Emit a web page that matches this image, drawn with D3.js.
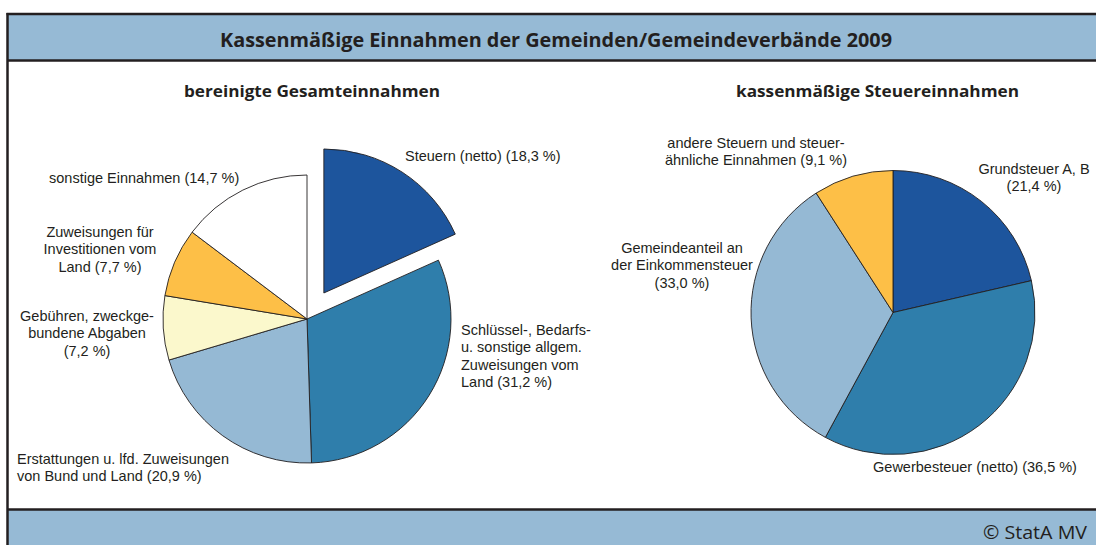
<!DOCTYPE html>
<html><head><meta charset="utf-8">
<script src="https://cdn.jsdelivr.net/npm/d3@7"></script>
<style>
html,body{margin:0;padding:0;background:#fff;}
svg{display:block;}
</style></head>
<body>
<svg id="c" width="1096" height="545"></svg>
<script>
// ---- data ----
const title = "Kassenmäßige Einnahmen der Gemeinden/Gemeindeverbände 2009";
const leftTitle = "bereinigte Gesamteinnahmen";
const rightTitle = "kassenmäßige Steuereinnahmen";
const source = "© StatA MV";

const leftCategories = [
  "Steuern (netto)",
  "Schlüssel-, Bedarfs- u. sonstige allgem. Zuweisungen vom Land",
  "Erstattungen u. lfd. Zuweisungen von Bund und Land",
  "Gebühren, zweckgebundene Abgaben",
  "Zuweisungen für Investitionen vom Land",
  "sonstige Einnahmen"
];
const leftValues = [18.3, 31.2, 20.9, 7.2, 7.7, 14.7];
const leftLabelLines = [
  ["Steuern (netto) (18,3 %)"],
  ["Schlüssel-, Bedarfs-", "u. sonstige allgem.", "Zuweisungen vom", "Land (31,2 %)"],
  ["Erstattungen u. lfd. Zuweisungen", "von Bund und Land (20,9 %)"],
  ["Gebühren, zweckge-", "bundene Abgaben", "(7,2 %)"],
  ["Zuweisungen für", "Investitionen vom", "Land (7,7 %)"],
  ["sonstige Einnahmen (14,7 %)"]
];

const rightCategories = [
  "Grundsteuer A, B",
  "Gewerbesteuer (netto)",
  "Gemeindeanteil an der Einkommensteuer",
  "andere Steuern und steuerähnliche Einnahmen"
];
const rightValues = [21.4, 36.5, 33.0, 9.1];
const rightLabelLines = [
  ["Grundsteuer A, B", "(21,4 %)"],
  ["Gewerbesteuer (netto) (36,5 %)"],
  ["Gemeindeanteil an", "der Einkommensteuer", "(33,0 %)"],
  ["andere Steuern und steuer-", "ähnliche Einnahmen (9,1 %)"]
];

// ---- styles / layout ----
const leftColors = ["#1d559d", "#2f7eab", "#95b9d4", "#fbf8cc", "#fdbf47", "#ffffff"];
const rightColors = ["#1d559d", "#2f7eab", "#95b9d4", "#fdbf47"];
const leftExplode = [31, 0, 0, 0, 0, 0];
const leftLabelPos = [
  {x: 405, y: 161, a: "start"},
  {x: 461, y: 335, a: "start"},
  {x: 17, y: 464, a: "start"},
  {x: 87, y: 321, a: "middle"},
  {x: 100, y: 237, a: "middle"},
  {x: 49, y: 183, a: "start"}
];
const rightLabelPos = [
  {x: 1034, y: 174, a: "middle"},
  {x: 975, y: 472, a: "middle"},
  {x: 682, y: 253, a: "middle"},
  {x: 756, y: 148, a: "middle"}
];
const bandColor = "#96bad5";
const ink = "#231f20";
const lineH = 17.3;

const svg = d3.select("#c");

// frame & bands
svg.append("rect").attr("x", 8).attr("y", 14).attr("width", 1096).attr("height", 46).attr("fill", bandColor);
svg.append("rect").attr("x", 8).attr("y", 509).attr("width", 1096).attr("height", 40).attr("fill", bandColor);
svg.append("line").attr("x1", 6.5).attr("x2", 1096).attr("y1", 14).attr("y2", 14).attr("stroke", ink).attr("stroke-width", 2.5);
svg.append("line").attr("x1", 8).attr("x2", 1096).attr("y1", 60.5).attr("y2", 60.5).attr("stroke", ink).attr("stroke-width", 2.5);
svg.append("line").attr("x1", 8).attr("x2", 1096).attr("y1", 509.5).attr("y2", 509.5).attr("stroke", ink).attr("stroke-width", 2.5);
svg.append("line").attr("x1", 7.5).attr("x2", 7.5).attr("y1", 13).attr("y2", 545).attr("stroke", ink).attr("stroke-width", 2.5);

const boldFont = "'Open Sans', 'DejaVu Sans', sans-serif";
svg.append("text").attr("x", 556).attr("y", 47).attr("text-anchor", "middle")
  .attr("font-family", boldFont).attr("font-weight", 700).attr("font-size", 19)
  .attr("fill", ink).attr("textLength", 672).attr("lengthAdjust", "spacingAndGlyphs").text(title);
svg.append("text").attr("x", 312).attr("y", 97).attr("text-anchor", "middle")
  .attr("font-family", boldFont).attr("font-weight", 700).attr("font-size", 16)
  .attr("fill", ink).attr("textLength", 256).attr("lengthAdjust", "spacingAndGlyphs").text(leftTitle);
svg.append("text").attr("x", 877.5).attr("y", 97).attr("text-anchor", "middle")
  .attr("font-family", boldFont).attr("font-weight", 700).attr("font-size", 16)
  .attr("fill", ink).attr("textLength", 283).attr("lengthAdjust", "spacingAndGlyphs").text(rightTitle);
svg.append("text").attr("x", 1087).attr("y", 539).attr("text-anchor", "end")
  .attr("font-family", "'Open Sans', sans-serif").attr("font-size", 19)
  .attr("fill", ink).attr("textLength", 104).attr("lengthAdjust", "spacingAndGlyphs").text(source);

const pie = d3.pie().sort(null).value(d => d);

function drawPie(cx, cy, r, values, colors, explode, labels, pos) {
  const arcs = pie(values);
  const arc = d3.arc().innerRadius(0).outerRadius(r);
  const g = svg.append("g").attr("transform", `translate(${cx},${cy})`);
  g.selectAll("path").data(arcs).join("path")
    .attr("d", arc)
    .attr("transform", (d, i) => {
      const m = (d.startAngle + d.endAngle) / 2;
      const o = explode[i];
      return `translate(${o * Math.sin(m)},${-o * Math.cos(m)})`;
    })
    .attr("fill", (d, i) => colors[i])
    .attr("stroke", ink).attr("stroke-width", 0.9).attr("stroke-linejoin", "round");
  labels.forEach((lines, i) => {
    const t = svg.append("text").attr("font-family", "'Liberation Sans', Arial, sans-serif")
      .attr("font-size", 14.5).attr("fill", ink).attr("text-anchor", pos[i].a);
    lines.forEach((l, k) => {
      t.append("tspan").attr("x", pos[i].x).attr("y", pos[i].y + k * lineH).text(l);
    });
  });
}

drawPie(307, 319, 144, leftValues, leftColors, leftExplode, leftLabelLines, leftLabelPos);
drawPie(893, 312.5, 142, rightValues, rightColors, [0, 0, 0, 0], rightLabelLines, rightLabelPos);
</script>
</body></html>
